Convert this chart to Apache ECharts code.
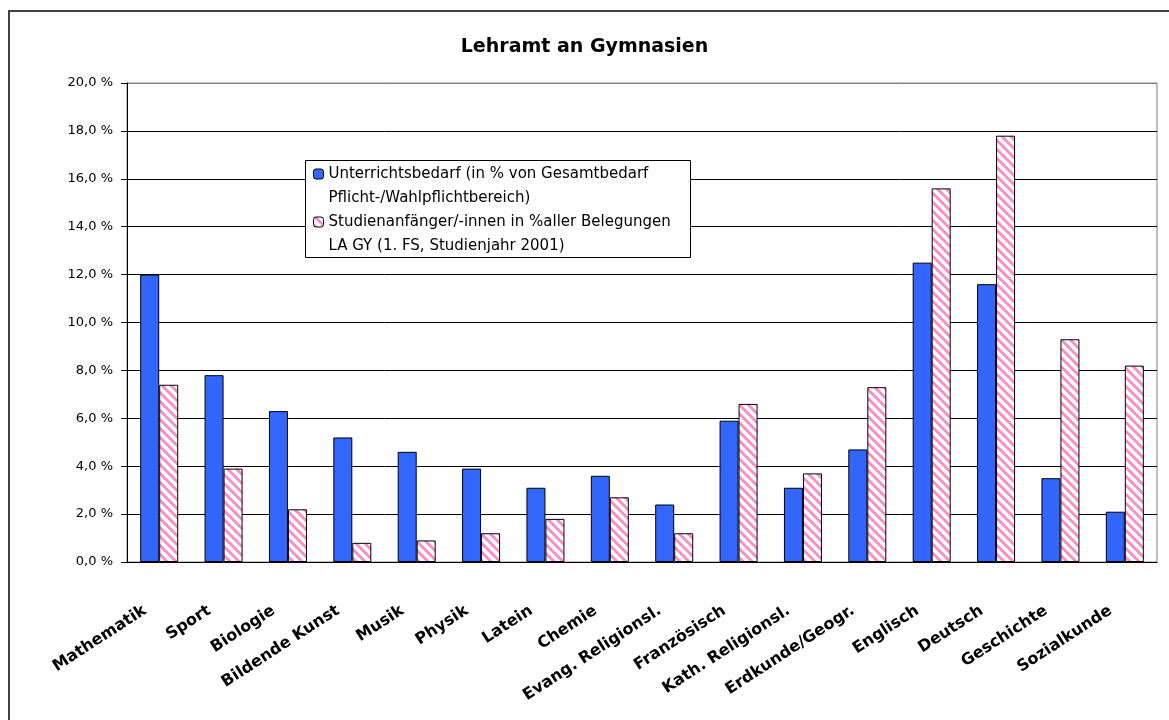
<!DOCTYPE html>
<html>
<head>
<meta charset="utf-8">
<style>
  html, body { margin: 0; padding: 0; background: #fff; }
  #chart { width: 1169px; height: 720px; }
</style>
<script src="https://cdn.jsdelivr.net/npm/echarts@6/dist/echarts.min.js"></script>
</head>
<body>
<div id="chart"></div>
<script>
// Daten
const categories = ['Mathematik', 'Sport', 'Biologie', 'Bildende Kunst', 'Musik', 'Physik', 'Latein', 'Chemie',
  'Evang. Religionsl.', 'Französisch', 'Kath. Religionsl.', 'Erdkunde/Geogr.', 'Englisch', 'Deutsch', 'Geschichte', 'Sozialkunde']
const bedarf = [12.0, 7.8, 6.3, 5.2, 4.6, 3.9, 3.1, 3.6, 2.4, 5.9, 3.1, 4.7, 12.5, 11.6, 3.5, 2.1]
const anfaenger = [7.4, 3.9, 2.2, 0.8, 0.9, 1.2, 1.8, 2.7, 1.2, 6.6, 3.7, 7.3, 15.6, 17.8, 9.3, 8.2]
const seriesNames = [
  'Unterrichtsbedarf (in % von Gesamtbedarf\nPflicht-/Wahlpflichtbereich)',
  'Studienanfänger/-innen in %aller Belegungen\nLA GY (1. FS, Studienjahr 2001)'
]

// schraffiertes Muster (rosa Diagonalen)
function makeHatch() {
  const n = 9
  const c = document.createElement('canvas')
  c.width = n
  c.height = n
  const ctx = c.getContext('2d')
  ctx.fillStyle = '#ffffff'
  ctx.fillRect(0, 0, n, n)
  ctx.fillStyle = '#ff8fc8'
  for (let x = 0; x < n; x++) {
    for (let y = 0; y < n; y++) {
      if (((x - y) % n + n) % n < 4) ctx.fillRect(x, y, 1, 1)
    }
  }
  return c
}

const chart = echarts.init(document.getElementById('chart'))
const font = 'DejaVu Sans'

const option = {
  animation: false,
  backgroundColor: '#fff',
  title: {
    text: 'Lehramt an Gymnasien',
    left: 'center',
    top: 33,
    textStyle: { fontFamily: font, fontWeight: 'bold', fontSize: 19, color: '#000' }
  },
  graphic: [
    {
      type: 'rect',
      z: 100,
      silent: true,
      shape: { x: 9, y: 11, width: 1200, height: 800 },
      style: { fill: 'none', stroke: '#404040', lineWidth: 2 }
    },
    {
      type: 'rect',
      z: 3,
      silent: true,
      shape: { x: 305.5, y: 160.5, width: 385, height: 97 },
      style: { fill: '#fff', stroke: '#000', lineWidth: 1 }
    }
  ],
  legend: {
    orient: 'vertical',
    left: 313,
    top: 138,
    padding: 0,
    itemGap: -24,
    itemWidth: 10,
    itemHeight: 10,
    data: seriesNames,
    // leere erste Zeile, damit das Symbol neben der ersten Textzeile steht
    formatter: name => '\n' + name,
    itemStyle: { borderColor: '#000', borderWidth: 1 },
    textStyle: {
      fontFamily: font,
      fontSize: 15,
      color: '#000',
      lineHeight: 24
    }
  },
  grid: {
    left: 127,
    right: 12,
    top: 83,
    bottom: 158,
    show: true,
    borderColor: '#808080',
    borderWidth: 1
  },
  xAxis: {
    type: 'category',
    data: categories,
    axisLine: { lineStyle: { color: '#000', width: 1 } },
    axisTick: { length: 5, lineStyle: { color: '#000' } },
    axisLabel: {
      interval: 0,
      rotate: 33,
      margin: 38,
      padding: [0, 17, 0, 0],
      fontFamily: font,
      fontWeight: 'bold',
      fontSize: 16,
      color: '#000'
    }
  },
  yAxis: {
    type: 'value',
    min: 0,
    max: 20,
    interval: 2,
    axisLine: { show: true, lineStyle: { color: '#000', width: 1 } },
    axisTick: { show: true, length: 6, lineStyle: { color: '#000' } },
    axisLabel: {
      margin: 14,
      fontFamily: font,
      fontSize: 13,
      color: '#000',
      formatter: v => v.toFixed(1).replace('.', ',') + ' %'
    },
    splitLine: {
      lineStyle: {
        color: ['#000', '#000', '#000', '#000', '#000', '#000', '#000', '#000', '#000', '#000', '#808080'],
        width: 1
      }
    }
  },
  series: [
    {
      name: seriesNames[0],
      type: 'bar',
      data: bedarf,
      barWidth: 19,
      barGap: '0%',
      itemStyle: { color: '#3366ff', borderColor: '#000', borderWidth: 1 }
    },
    {
      name: seriesNames[1],
      type: 'bar',
      data: anfaenger,
      barWidth: 19,
      barGap: '0%',
      itemStyle: {
        color: { image: makeHatch(), repeat: 'repeat' },
        borderColor: '#000',
        borderWidth: 1
      }
    }
  ]
}

option && chart.setOption(option)
</script>
</body>
</html>
